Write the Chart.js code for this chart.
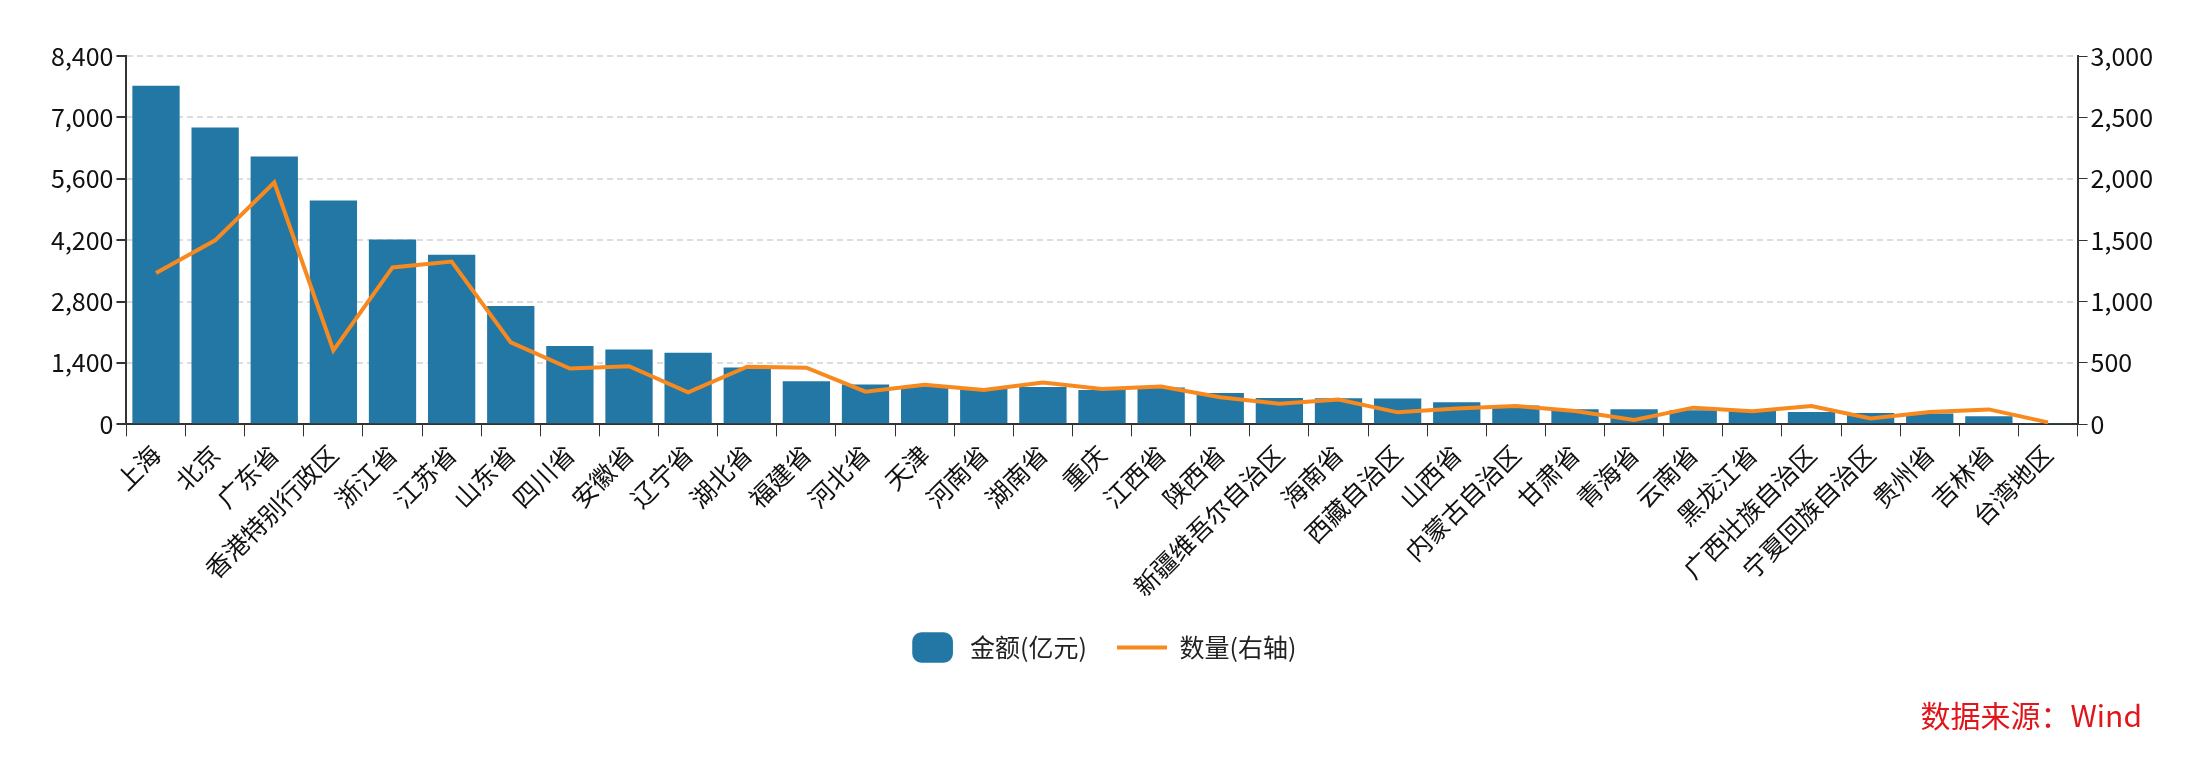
<!DOCTYPE html>
<html><head><meta charset="utf-8">
<script src="https://cdn.jsdelivr.net/npm/chart.js@4/dist/chart.umd.min.js"></script>
<style>html,body{margin:0;padding:0;background:#fff}#wrap{position:relative;width:2202px;height:760px}
#src{position:absolute;right:60px;top:692px;font:30px "Noto Sans CJK SC";color:#e0161b}</style>
</head><body><div id="wrap"><canvas id="c" width="2202" height="760"></canvas><div id="src">数据来源：Wind</div></div>
<script>
const categories=["上海","北京","广东省","香港特别行政区","浙江省","江苏省","山东省","四川省","安徽省","辽宁省","湖北省","福建省","河北省","天津","河南省","湖南省","重庆","江西省","陕西省","新疆维吾尔自治区","海南省","西藏自治区","山西省","内蒙古自治区","甘肃省","青海省","云南省","黑龙江省","广西壮族自治区","宁夏回族自治区","贵州省","吉林省","台湾地区"];
const amount=[7721,6767,6111,5105,4218,3868,2698,1789,1707,1632,1297,984,909,857,820,850,783,842,715,604,596,589,507,432,343,343,320,306,283,261,246,186,22];
const count=[1232,1499,1970,602,1278,1326,668,455,474,261,469,461,266,322,280,341,288,309,221,168,202,98,130,149,109,35,136,106,149,48,101,122,16];
const leftTicks=[0,1400,2800,4200,5600,7000,8400];
const rightTicks=[0,500,1000,1500,2000,2500,3000];
const F='"Noto Sans CJK SC"';
new Chart(document.getElementById('c'),{
data:{labels:categories,datasets:[
{type:'line',label:'数量(右轴)',data:count,yAxisID:'y1',borderColor:'#f7891e',backgroundColor:'#f7891e',borderWidth:4,pointRadius:0,tension:0,pointStyle:'line'},
{type:'bar',label:'金额(亿元)',data:amount,yAxisID:'y',backgroundColor:'#2377a4',categoryPercentage:1,barPercentage:0.8,pointStyle:'rectRounded'}
]},
options:{responsive:false,animation:false,
layout:{padding:{left:48,right:46,top:56,bottom:90}},
plugins:{legend:{position:'bottom',reverse:true,labels:{usePointStyle:true,pointStyleWidth:50,font:{family:F,size:25},color:'#222',padding:30}},tooltip:{enabled:false}},
scales:{
x:{grid:{drawOnChartArea:false,color:'#333',tickLength:12},border:{color:'#333',width:2},ticks:{minRotation:45,maxRotation:45,autoSkip:false,font:{family:F,size:25},color:'#111'}},
y:{position:'left',min:0,max:8400,afterBuildTicks:a=>{a.ticks=leftTicks.map(v=>({value:v}))},grid:{color:'#ddd',lineWidth:2,tickColor:'#333',tickLength:10},border:{color:'#333',width:2,dash:[6,4]},ticks:{font:{family:F,size:25},color:'#111',callback:v=>v.toLocaleString('en-US')}},
y1:{position:'right',min:0,max:3000,afterBuildTicks:a=>{a.ticks=rightTicks.map(v=>({value:v}))},grid:{drawOnChartArea:false,color:'#333',tickLength:10},border:{color:'#333',width:2},ticks:{font:{family:F,size:25},color:'#111',callback:v=>v.toLocaleString('en-US')}}
}}});
</script></body></html>
